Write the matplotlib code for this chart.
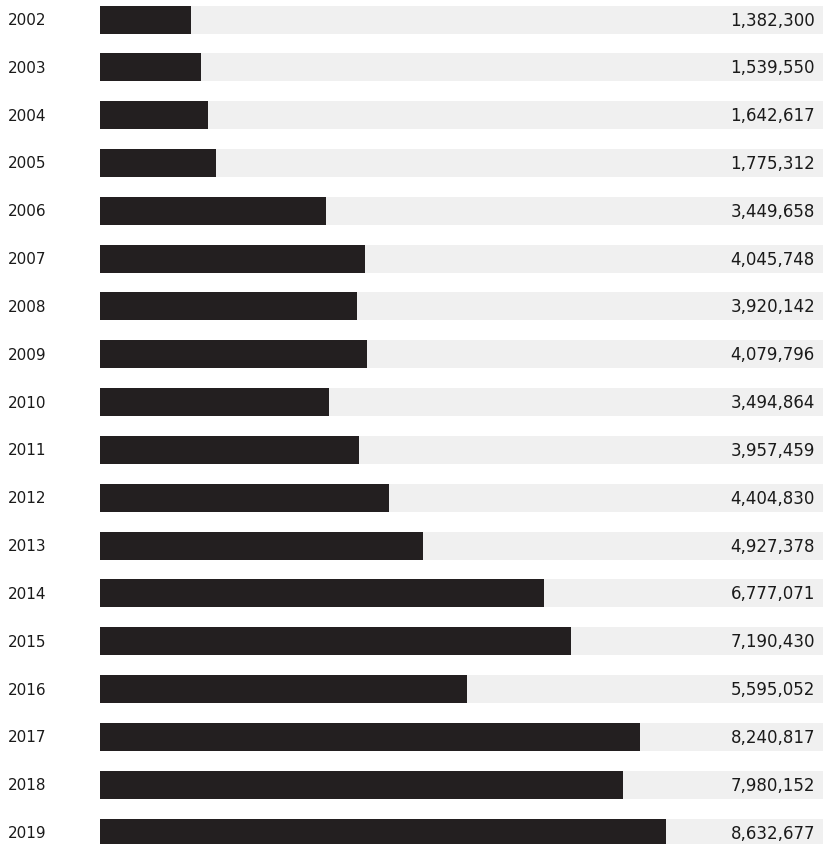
import matplotlib
matplotlib.use('Agg')
import matplotlib.pyplot as plt

# Yearly totals
years = [2002, 2003, 2004, 2005, 2006, 2007, 2008, 2009, 2010,
         2011, 2012, 2013, 2014, 2015, 2016, 2017, 2018, 2019]
values = [1382300, 1539550, 1642617, 1775312, 3449658, 4045748, 3920142,
          4079796, 3494864, 3957459, 4404830, 4927378, 6777071, 7190430,
          5595052, 8240817, 7980152, 8632677]

W, H = 823, 845
fig = plt.figure(figsize=(W / 100, H / 100), dpi=100)

left_px = 100
ax = fig.add_axes([left_px / W, 0, 1 - left_px / W, 1])

pitch = 47.83
first_center = 20.5
xmax = 11.03e6
bar_h = 28 / pitch

pos = list(range(len(years)))

# grey tracks behind, dark bars on top
ax.barh(pos, [xmax] * len(years), height=bar_h, color='#f0f0f0', left=0)
ax.barh(pos, values, height=bar_h, color='#231f20', left=0)

ax.set_xlim(0, xmax)
ax.set_ylim((H - first_center) / pitch, -first_center / pitch)
ax.axis('off')

for i, (yr, v) in enumerate(zip(years, values)):
    fig.text(8 / W, 1 - (first_center + i * pitch) / H, str(yr),
             ha='left', va='center', fontsize=11, family='DejaVu Sans',
             color='#1a1a1a')
    ax.text(xmax * (815 - left_px) / (W - left_px), i, f"{v:,}",
            ha='right', va='center', fontsize=12, family='DejaVu Sans',
            color='#1a1a1a')

plt.savefig('out.png', dpi=100)
